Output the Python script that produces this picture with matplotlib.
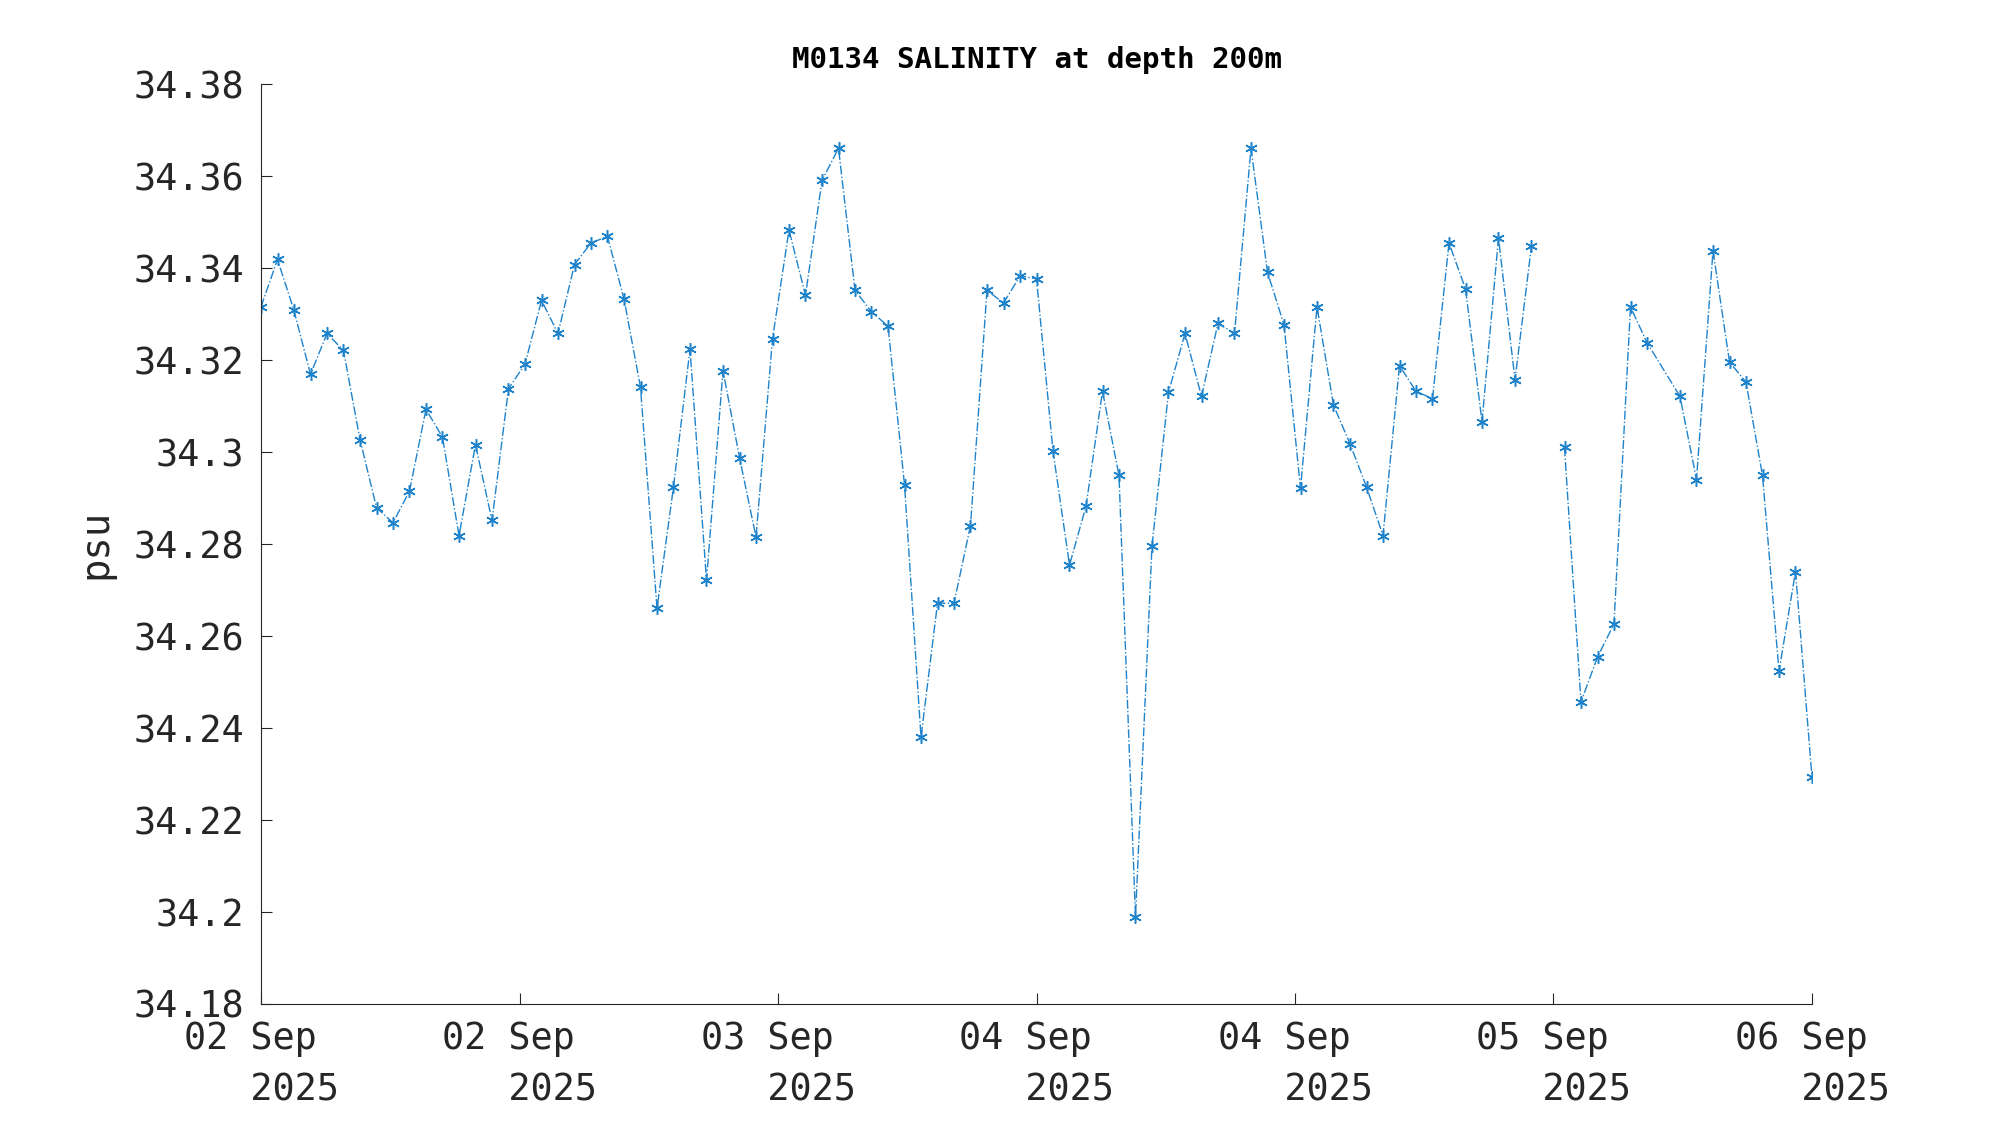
import matplotlib
matplotlib.use("Agg")
import matplotlib.pyplot as plt
import numpy as np
from datetime import datetime, timedelta

indices = list(range(0, 85)) + list(range(86, 95))
salinity = [34.3316,34.3419,34.3308,34.3169,34.3258,34.3221,34.3027,34.2879,34.2846,34.2915,
34.3093,34.3032,34.2818,34.3016,34.2851,34.3138,34.3191,34.3330,34.3258,34.3408,
34.3455,34.3469,34.3333,34.3141,34.2660,34.2924,34.3224,34.2721,34.3177,34.2988,
34.2815,34.3246,34.3483,34.3341,34.3591,34.3661,34.3352,34.3305,34.3274,34.2929,
34.2379,34.2671,34.2671,34.2840,34.3352,34.3324,34.3383,34.3377,34.3002,34.2754,
34.2882,34.3132,34.2949,34.1989,34.2796,34.3130,34.3258,34.3121,34.3280,34.3258,
34.3661,34.3391,34.3277,34.2921,34.3316,34.3102,34.3018,34.2924,34.2818,34.3188,
34.3132,34.3116,34.3455,34.3355,34.3066,34.3466,34.3157,34.3449,np.nan,34.3010,
34.2456,34.2554,34.2626,34.3316,34.3238,
34.3121,34.2940,34.3438,34.3196,34.3152,34.2949,34.2523,34.2740,34.2292]
yticks = [34.18,34.2,34.22,34.24,34.26,34.28,34.3,34.32,34.34,34.36,34.38]
xtick_labels = ['02 Sep', '02 Sep', '03 Sep', '04 Sep', '04 Sep', '05 Sep', '06 Sep']

start = datetime(2025, 9, 2)
step_h = 96 / 94
times = [start + timedelta(hours=i * step_h) for i in indices]

plt.rcParams['font.family'] = ['DejaVu Sans Mono', 'DejaVu Sans']
fig = plt.figure(figsize=(20, 11.25), dpi=100)
ax = fig.add_axes([0.1305, 0.108, 0.7755, 0.817])
ax.plot(times, salinity, linestyle='-.', color='#1f83cc', linewidth=1.0,
        marker=(6, 2, 0), markersize=9, markeredgewidth=1.1)
ax.set_xlim(start, start + timedelta(days=4))
ax.set_ylim(34.18, 34.38)
ax.set_yticks(yticks)
ax.set_yticklabels([f"{v:g}" for v in yticks])
xt = [start + timedelta(hours=16 * k) for k in range(7)]
ax.set_xticks(xt)
ax.set_xticklabels([f"{l}\n   2025" for l in xtick_labels], multialignment='left',
                   linespacing=1.5)
for s in ['top', 'right']:
    ax.spines[s].set_visible(False)
for s in ['left', 'bottom']:
    ax.spines[s].set_color('#262626')
ax.tick_params(direction='in', length=8, labelsize=26.5, colors='#262626', pad=12)
ax.set_ylabel('psu', fontsize=28, color='#262626', labelpad=14)
ax.set_title('M0134 SALINITY at depth 200m', fontsize=21, fontweight='bold', pad=12)
fig.savefig('out.png', dpi=100)
